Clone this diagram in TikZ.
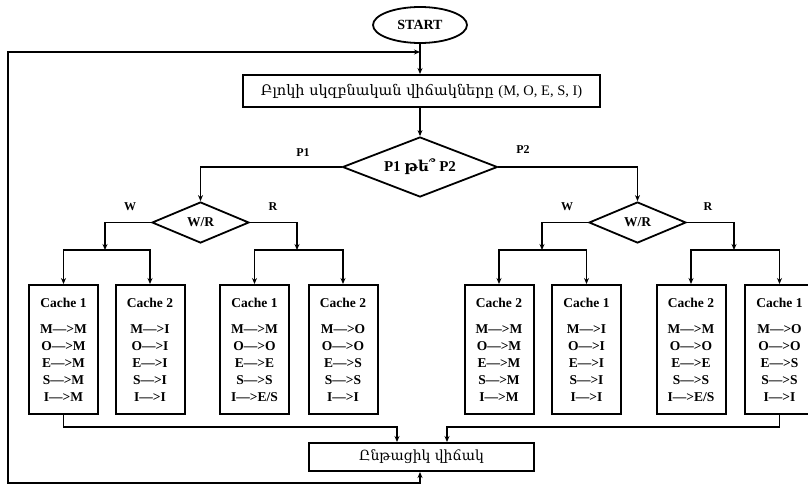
\documentclass[tikz,border=0pt]{standalone}
\usepackage{fontspec}
\setmainfont{Liberation Serif}
\newfontfamily\arm{DejaVu Serif}
\usetikzlibrary{shapes.geometric,arrows.meta}
\tikzset{
  ln/.style={line width=1.5pt, line cap=rect},
  arr/.style={ln, -{Stealth[length=6pt,width=5pt]}},
  boxst/.style={draw, rectangle, line width=2pt, inner sep=0pt},
  cache/.style={boxst, minimum width=69pt, minimum height=129pt, anchor=north,
    align=center, font=\bfseries\fontsize{13.5}{17}\selectfont},
  dia/.style={draw, diamond, line width=1.8pt, inner sep=0pt, aspect=3},
  lab/.style={font=\bfseries\fontsize{12}{14}\selectfont}
}
\newcommand{\ctitle}[1]{{\fontsize{13.5}{15}\selectfont Cache #1}\\[9pt]}
\begin{document}
\begin{tikzpicture}[x=1pt,y=-1pt]
\useasboundingbox (0,0) rectangle (808,485);
% main nodes
\node[draw, ellipse, line width=1.8pt, minimum width=94pt, minimum height=36pt,
  font=\bfseries\fontsize{14}{16}\selectfont] (start) at (420,25) {START};
\node[boxst, minimum width=357pt, minimum height=32pt,
  font=\fontsize{14.5}{16}\selectfont] (init) at (421.5,91)
  {\arm Բլոկի սկզբնական վիճակները \rmfamily (M, O, E, S, I)};
\node[dia, minimum width=155pt, minimum height=60pt,
  font=\bfseries\fontsize{15}{17}\selectfont] (pq) at (420,167) {P1 {\arm թե՞} P2};
\node[dia, minimum width=97pt, minimum height=41pt,
  font=\bfseries\fontsize{13.5}{15}\selectfont] (wr1) at (200.5,222.5) {W/R};
\node[dia, minimum width=97pt, minimum height=41pt,
  font=\bfseries\fontsize{13.5}{15}\selectfont] (wr2) at (637.5,222.5) {W/R};
% caches
\node[cache] (c1) at (63.5,284) {\ctitle{1}M—>M\\O—>M\\E—>M\\S—>M\\I—>M};
\node[cache] (c2) at (150,284) {\ctitle{2}M—>I\\O—>I\\E—>I\\S—>I\\I—>I};
\node[cache] (c3) at (254.5,284) {\ctitle{1}M—>M\\O—>O\\E—>E\\S—>S\\I—>E/S};
\node[cache] (c4) at (343,284) {\ctitle{2}M—>O\\O—>O\\E—>S\\S—>S\\I—>I};
\node[cache] (c5) at (499,284) {\ctitle{2}M—>M\\O—>M\\E—>M\\S—>M\\I—>M};
\node[cache] (c6) at (586.5,284) {\ctitle{1}M—>I\\O—>I\\E—>I\\S—>I\\I—>I};
\node[cache] (c7) at (691,284) {\ctitle{2}M—>M\\O—>O\\E—>E\\S—>S\\I—>E/S};
\node[cache] (c8) at (779.5,284) {\ctitle{1}M—>O\\O—>O\\E—>S\\S—>S\\I—>I};
% current state
\node[boxst, minimum width=225pt, minimum height=28pt,
  font=\fontsize{14}{16}\selectfont] (cur) at (421.5,457) {\arm Ընթացիկ վիճակ};
% coordinates
\coordinate (b1) at (105,250);
\coordinate (b2) at (297,250);
\coordinate (b3) at (542,250);
\coordinate (b4) at (734,250);
\coordinate (k1) at (397,427);
\coordinate (k2) at (447,427);
\coordinate (lb) at (8,483);
\coordinate (lt) at (8,52);
% connectors
\draw[arr] (start.south) -- (start.south |- init.north);
\draw[arr] (init.south -| pq.north) -- (pq.north);
\draw[arr] (pq.west) -| (wr1.north);
\draw[arr] (pq.east) -| (wr2.north);
\draw[arr] (wr1.west) -| (b1);
\draw[arr] (wr1.east) -| (b2);
\draw[arr] (wr2.west) -| (b3);
\draw[arr] (wr2.east) -| (b4);
\draw[arr] (c2.north |- b1) -- (c1.north |- b1) -- (c1.north);
\draw[arr] (c2.north |- b1) -- (c2.north);
\draw[arr] (c4.north |- b2) -- (c3.north |- b2) -- (c3.north);
\draw[arr] (c4.north |- b2) -- (c4.north);
\draw[arr] (c6.north |- b3) -- (c5.north |- b3) -- (c5.north);
\draw[arr] (c6.north |- b3) -- (c6.north);
\draw[arr] (c8.north |- b4) -- (c7.north |- b4) -- (c7.north);
\draw[arr] (c8.north |- b4) -- (c8.north);
\draw[arr] (c1.south) |- (k1) -- (k1 |- cur.north);
\draw[arr] (c8.south) |- (k2) -- (k2 |- cur.north);
\draw[ln, {Stealth[length=6pt,width=5pt]}-{Stealth[length=6pt,width=5pt]}]
  (cur.south -| start.south) |- (lb) -- (lt) -- (lt -| start.south);
% labels
\node[lab] (lp1) at (303,153) {P1};
\node[lab] (lp2) at (523,150) {P2};
\node[lab] (lw1) at (130,207) {W};
\node[lab] (lr1) at (273,207) {R};
\node[lab] (lw2) at (567,207) {W};
\node[lab] (lr2) at (708,207) {R};
\end{tikzpicture}
\end{document}
